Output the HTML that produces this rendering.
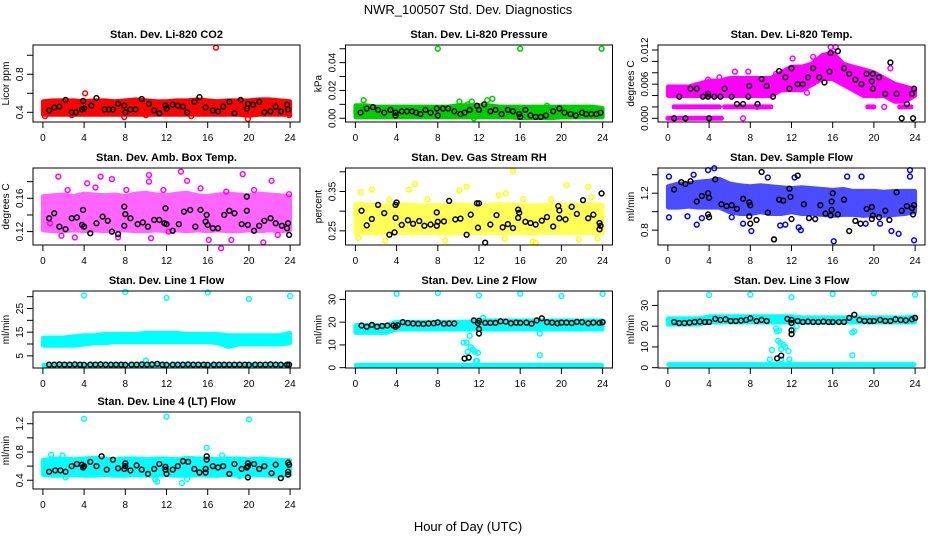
<!DOCTYPE html>
<html><head><meta charset="utf-8"><style>
html,body{margin:0;padding:0;background:#fff;}
svg{display:block;font-family:"Liberation Sans",Arial,sans-serif;}
</style></head><body>
<svg id="fig" width="936" height="540" viewBox="0 0 936 540">
<text x="468" y="14" font-size="13" text-anchor="middle">NWR_100507  Std. Dev. Diagnostics</text>
<text x="468" y="531" font-size="13" text-anchor="middle">Hour of Day (UTC)</text>
</svg>
<script>
// ---------- DATA ----------
const xTicks = [0,4,8,12,16,20,24];
const bandHours = [0,1,2,3,4,5,6,7,8,9,10,11,12,13,14,15,16,17,18,19,20,21,22,23,24];

// Panel 1 CO2
const co2Lo = [0.38,0.38,0.38,0.38,0.38,0.38,0.38,0.38,0.38,0.38,0.38,0.38,0.38,0.38,0.38,0.38,0.38,0.38,0.38,0.38,0.37,0.38,0.38,0.38,0.38];
const co2Hi = [0.51,0.52,0.52,0.52,0.51,0.52,0.52,0.51,0.52,0.53,0.52,0.51,0.51,0.52,0.52,0.53,0.52,0.51,0.52,0.52,0.52,0.53,0.53,0.52,0.51];
const co2Out = [[16.8,1.08],[0.2,0.36],[4.1,0.6],[7.9,0.35],[19.9,0.33],[23.9,0.37],[10,0.37],[2.8,0.37],[14.4,0.36]];
const co2Blk = [[0.6,0.42],[1.1,0.45],[1.6,0.46],[2.2,0.53],[2.8,0.4],[3.2,0.4],[3.8,0.43],[3.9,0.52],[4,0.44],[4.7,0.47],[5.2,0.55],[6,0.43],[6.4,0.43],[6.8,0.43],[7.3,0.49],[7.9,0.47],[8,0.4],[8.5,0.43],[9,0.43],[9.6,0.54],[10.3,0.49],[10.8,0.42],[11.3,0.39],[11.9,0.47],[12,0.44],[12.6,0.48],[13.1,0.47],[13.6,0.46],[14,0.4],[14.7,0.51],[15.2,0.56],[15.8,0.45],[16.5,0.42],[17,0.41],[17.5,0.46],[18.1,0.51],[18.6,0.39],[19.2,0.53],[19.8,0.44],[19.9,0.49],[20.4,0.48],[21,0.51],[21.5,0.4],[22.1,0.41],[22.6,0.46],[23.1,0.41],[23.7,0.48],[23.8,0.43]];

// Panel 2 Pressure
const prsLo = [0.001,0.001,0.001,0.001,0.001,0.001,0.001,0.001,0.001,0.001,0.001,0.001,0.001,0.001,0.001,0.001,0.0005,0.0005,0.0005,0.0005,0.001,0.001,0.001,0.001,0.001];
const prsHi = [0.009,0.009,0.008,0.008,0.008,0.008,0.008,0.008,0.008,0.008,0.009,0.009,0.009,0.009,0.008,0.008,0.008,0.008,0.008,0.008,0.008,0.008,0.008,0.008,0.007];
const prsOut = [[8,0.05],[16,0.05],[23.9,0.05],[0.8,0.013],[10.1,0.012],[11.3,0.012],[12.8,0.013],[13.3,0.014],[11.5,0.0],[10.9,0.01],[18.6,0.009]];
const prsBlk = [[0.5,0.004],[1.1,0.007],[1.7,0.008],[2.2,0.006],[2.8,0.004],[3.4,0.006],[3.9,0.004],[3.9,0.002],[4.5,0.005],[5,0.005],[5.5,0.005],[5.9,0.004],[6.3,0.003],[6.8,0.006],[7.3,0.004],[7.9,0.007],[8,0.002],[8.5,0.007],[9,0.007],[9.6,0.005],[10.2,0.003],[10.6,0.004],[11.1,0.006],[11.8,0.009],[12,0.006],[12.5,0.01],[13.1,0.005],[13.6,0.006],[14.2,0.003],[14.8,0.006],[15.3,0.005],[15.9,0.003],[16,0.001],[16.5,0.006],[17,0.002],[17.5,0.001],[18,0.001],[18.5,0.002],[19.2,0.005],[19.8,0.007],[20.3,0.004],[20.9,0.003],[21.4,0.002],[22,0.004],[22.4,0.003],[22.9,0.003],[23.4,0.003],[23.8,0.004]];

// Panel 3 Li-820 Temp
const tmpLo = [0.004,0.004,0.004,0.004,0.004,0.004,0.004,0.004,0.004,0.004,0.004,0.005,0.005,0.005,0.006,0.007,0.007,0.006,0.005,0.004,0.004,0.004,0.003,0.003,0.004];
const tmpHi = [0.0055,0.0055,0.0055,0.006,0.0065,0.0065,0.007,0.007,0.007,0.007,0.007,0.008,0.009,0.009,0.0095,0.011,0.0115,0.0095,0.009,0.0085,0.008,0.007,0.006,0.0055,0.005];
const tmpLevels = [[0,5.2,0],[0.6,5,0.002],[5.5,10,0.002],[19.4,20,0.002],[22.5,23.6,0.002]];
const tmpOut = [[7.3,0],[8.7,0.002],[3.9,0.0068],[5,0.0072],[15.8,0.0125],[16.3,0.0125],[12.1,0.0105],[14.1,0.0108],[21.6,0.0088],[10.5,0.0078],[6.5,0.0082],[7.8,0.0082],[13.5,0.0045],[20.2,0.004],[21,0.002],[23.8,0.0045]];
const tmpBlk = [[0.6,0],[1.1,0.0038],[1.7,0],[2.2,0.0052],[2.8,0.0052],[3.4,0.0038],[3.9,0.0043],[3.9,0.0038],[4,0],[4.5,0.0038],[5.1,0.0038],[5.5,0.0052],[6.2,0.0038],[6.7,0.0025],[7.3,0.0025],[7.8,0.0038],[7.9,0.0057],[8.7,0.0025],[9.1,0.0069],[9.6,0.0057],[10.2,0.0038],[10.8,0.0083],[11.4,0.0072],[11.8,0.0052],[12,0.0088],[12.6,0.006],[13.1,0.006],[13.6,0.0072],[14.1,0.0088],[14.7,0.0072],[15.2,0.0063],[15.7,0.0082],[15.8,0.0115],[16.5,0.0118],[17.1,0.0088],[17.6,0.0078],[18.2,0.0068],[18.8,0.006],[19.3,0.0078],[19.8,0.0065],[19.9,0.0052],[19.9,0.0078],[20.5,0.0072],[21.1,0.0043],[21.6,0.0098],[22.2,0.0043],[22.7,0],[23.2,0.0025],[23.7,0.0043],[23.8,0],[23.9,0.0052]];

// Panel 4 Amb Box Temp
const ambLo = [0.122,0.121,0.121,0.122,0.121,0.122,0.121,0.122,0.122,0.121,0.121,0.122,0.121,0.122,0.121,0.122,0.121,0.122,0.121,0.121,0.122,0.121,0.122,0.121,0.122];
const ambHi = [0.162,0.163,0.164,0.162,0.165,0.164,0.163,0.164,0.162,0.165,0.166,0.164,0.163,0.165,0.166,0.163,0.162,0.164,0.165,0.164,0.163,0.165,0.164,0.163,0.162];
const ambOut = [[1.5,0.186],[4.3,0.178],[5.6,0.186],[6.7,0.183],[10.3,0.18],[10.3,0.188],[13.4,0.192],[14,0.181],[19.4,0.189],[22.2,0.181],[0.7,0.13],[1.8,0.115],[3.1,0.113],[7.3,0.113],[10.5,0.112],[16.1,0.11],[17.3,0.1],[18.3,0.11],[21.4,0.107],[22.8,0.116],[12.2,0.12],[23.9,0.165],[5.1,0.173],[8.1,0.17],[15.3,0.172],[20.5,0.17],[2.4,0.17],[11.7,0.17],[17.8,0.168]];
const ambBlk = [[0.6,0.136],[1.1,0.142],[1.6,0.126],[2.2,0.123],[2.8,0.136],[3.3,0.137],[3.8,0.128],[3.9,0.146],[4,0.126],[4.6,0.118],[5.2,0.13],[5.8,0.138],[6.3,0.133],[6.7,0.12],[7.3,0.117],[7.9,0.15],[7.9,0.127],[8,0.141],[8.5,0.136],[9.2,0.129],[9.7,0.131],[10.2,0.126],[10.8,0.134],[11.3,0.134],[11.8,0.13],[11.9,0.148],[12,0.129],[12.6,0.121],[13.2,0.129],[13.7,0.144],[14.3,0.146],[14.8,0.126],[15.3,0.146],[15.8,0.132],[15.9,0.14],[16,0.128],[16.5,0.124],[17,0.124],[17.6,0.14],[18.1,0.145],[18.6,0.142],[19.3,0.129],[19.8,0.162],[19.8,0.145],[19.9,0.128],[20.5,0.121],[21,0.127],[21.5,0.133],[22.1,0.136],[22.6,0.13],[23.2,0.127],[23.7,0.124],[23.8,0.13],[23.9,0.116]];

// Panel 5 Gas Stream RH
const rhLo = [0.245,0.245,0.244,0.245,0.246,0.245,0.245,0.246,0.245,0.244,0.245,0.246,0.245,0.245,0.246,0.245,0.245,0.244,0.245,0.246,0.245,0.245,0.246,0.245,0.245];
const rhHi = [0.318,0.316,0.314,0.313,0.315,0.316,0.314,0.313,0.315,0.314,0.316,0.315,0.313,0.315,0.317,0.316,0.314,0.313,0.314,0.315,0.316,0.315,0.314,0.316,0.315];
const rhOut = [[0.3,0.232],[0.5,0.348],[1.6,0.355],[5.2,0.355],[5.8,0.369],[10.1,0.353],[10.8,0.362],[15.3,0.402],[20.5,0.366],[22.6,0.362],[16.3,0.33],[2.9,0.225],[8.7,0.225],[14.5,0.23],[17.2,0.222],[17.5,0.22],[21.7,0.228],[23.5,0.23],[0.2,0.3],[13.9,0.34],[14.6,0.345],[22.9,0.335],[3.3,0.33],[7,0.33],[19,0.33]];
const rhBlk = [[0.6,0.301],[1.1,0.264],[1.6,0.28],[2.2,0.316],[2.8,0.295],[3.3,0.24],[3.8,0.246],[3.9,0.316],[3.9,0.283],[4,0.322],[4.5,0.265],[5.1,0.277],[5.6,0.268],[6.2,0.275],[6.7,0.263],[7.3,0.266],[7.9,0.297],[7.9,0.263],[8,0.273],[8.6,0.274],[9.1,0.326],[9.7,0.279],[10.2,0.281],[10.8,0.24],[11.2,0.291],[11.8,0.32],[11.9,0.258],[12,0.32],[12.6,0.22],[13.1,0.266],[13.7,0.29],[14.3,0.259],[14.8,0.267],[15.3,0.257],[15.8,0.283],[15.8,0.304],[15.9,0.296],[16.5,0.273],[17,0.27],[17.5,0.266],[18.1,0.276],[18.6,0.285],[19.2,0.261],[19.7,0.313],[19.8,0.302],[19.8,0.282],[20.4,0.279],[21,0.311],[21.5,0.293],[22.1,0.328],[22.6,0.282],[23.1,0.291],[23.7,0.254],[23.7,0.27],[23.8,0.263],[23.9,0.345]];

// Panel 6 Sample Flow
const sfLo = [1.05,1.05,1.06,1.05,1.05,1.05,1.0,0.98,0.98,1.0,0.98,0.98,1.0,0.98,0.98,0.97,0.96,0.97,0.97,0.96,0.97,0.96,0.97,0.98,1.0];
const sfHi = [1.27,1.3,1.3,1.32,1.33,1.35,1.3,1.28,1.27,1.28,1.27,1.26,1.25,1.26,1.25,1.24,1.23,1.24,1.22,1.22,1.22,1.21,1.22,1.22,1.22];
const sfOut = [[0.1,0.938],[2.8,0.86],[3.3,0.93],[3.9,1.45],[4.5,1.47],[6.2,0.94],[7.3,0.87],[8.1,0.79],[10.3,0.7],[12.7,0.83],[12.9,0.8],[16.1,0.68],[23.9,0.69],[21.7,0.79],[22.4,0.76],[23.5,1.45],[23.5,1.38],[17.4,1.38],[18.8,1.38],[9.7,1.37],[12.3,1.37],[0.1,1.38],[2.5,1.4],[1.9,0.95],[11.4,0.86],[10.9,0.85],[19.2,0.87],[20.6,0.87]];
const sfBlk = [[0.6,1.24],[1.3,1.32],[1.7,1.3],[2.2,1.33],[2.8,1.11],[3.3,1.17],[3.9,1.2],[3.9,0.97],[4,0.94],[4,1.15],[4.6,1.35],[5.2,1.08],[5.7,1.06],[6.2,1.07],[6.7,1.03],[7.3,1.14],[7.9,1.1],[7.9,0.95],[8,0.87],[8,1.07],[8.6,0.91],[9.1,1.43],[9.7,0.99],[10.3,0.7],[10.8,1.13],[11.2,1.12],[11.8,1.25],[11.9,1.16],[12,0.92],[12.6,1.39],[13.2,1.08],[13.7,0.93],[14.3,0.92],[14.8,1.07],[15.3,0.98],[15.8,0.96],[15.9,1.02],[15.9,1.11],[16,1.2],[16.5,0.97],[17.1,1.13],[17.6,0.79],[18.2,0.9],[18.7,0.87],[19.3,1.03],[19.8,1.05],[19.8,0.92],[19.9,0.96],[20.5,0.94],[21.1,1.01],[21.5,0.91],[22.2,1.21],[22.7,1.01],[23.2,1.06],[23.7,1.04],[23.8,0.97],[23.9,1.07]];

// Panel 7 Line 1 Flow
const l1Lo = [9.5,9.5,9.5,9.5,10,10.5,10.5,11,11,11,11,11,11,11,11,11,11,10.5,9,10,10,10,10,10,10.5];
const l1Hi = [12.5,12.5,12.5,13,13.5,13.5,14,14,14,14,14.5,14.5,14.5,14.5,14,14,14,14,13.5,13.5,13.5,13.5,13.5,13.5,14.5];
const l1Levels = [[0.1,23.9,1.0]];
const l1Out = [[4,30.5],[8,32],[12,29.5],[16,31.8],[20,29],[24,30.3],[10,3]];
const l1Blk = [[0.6,1.3],[1.1,1.3],[1.6,1.4],[2.1,1.3],[2.6,1.3],[3.1,1.4],[3.6,1.3],[4,1.2],[4.6,1.3],[5.1,1.3],[5.6,1.4],[6.1,1.3],[6.6,1.3],[7.1,1.3],[7.6,1.3],[8,1.2],[8.6,1.3],[9.1,1.3],[9.6,1.4],[10.1,1.3],[10.6,1.4],[11.1,1.6],[11.6,1.3],[12,1.2],[12.6,1.3],[13.1,1.3],[13.6,1.3],[14.1,1.4],[14.6,1.3],[15.1,1.3],[15.6,1.3],[16,1.2],[16.6,1.3],[17.1,1.3],[17.6,1.3],[18.1,1.3],[18.6,1.3],[19.1,1.3],[19.6,1.3],[20,1.2],[20.6,1.3],[21.1,1.3],[21.6,1.3],[22.1,1.4],[22.6,1.3],[23.1,1.3],[23.7,1.3],[23.9,1.3]];

// Panel 8 Line 2 Flow
const l2Lo = [15.5,15.5,15.5,15.5,17,17,17,17,17,17,17,17,17,17,17,17,17,17,17,17,17,17,17,17,17];
const l2Hi = [18.5,18.5,18.5,18.5,20,20,20,20,20,20,20,20,20.5,20.5,20.5,20.5,20.5,20.5,20.5,20.5,20.5,20.5,20.5,20.5,20.5];
const l2Levels = [[0.1,23.9,1.0]];
const l2Out = [[4,32.5],[8,32.8],[12,31.7],[16,32.5],[20,31.5],[24,32.4],[10.5,11],[10.8,11],[10.9,7],[11.1,14],[11.2,9],[11.4,8],[11.6,7],[11.9,6.5],[12.4,22],[17.9,5.5],[17.9,15],[11.8,3],[11.7,3]];
const l2Blk = [[0.6,18.5],[1.1,18],[1.6,18.8],[2.1,18],[2.6,18.3],[3.1,18.5],[3.7,18.5],[3.9,18],[4.1,18.6],[4.6,20],[5.1,19.6],[5.6,19.4],[6.1,19.3],[6.6,19.2],[7.1,19.4],[7.6,19.5],[8,19.9],[8.6,19.3],[9.1,19.4],[9.6,19.4],[10.6,4],[11,4.4],[11.5,20.8],[12,20.6],[11.9,19.6],[12,15],[12,17],[12.6,19.7],[13.1,19.7],[13.6,19.7],[14.1,20.4],[14.6,20.2],[15.1,19.5],[15.6,19.8],[16,19.7],[16.6,19.8],[17.1,19.3],[17.6,20.8],[18.1,21.7],[18.6,20],[19.1,19.8],[19.6,19.5],[20,19.8],[20.5,19.8],[21,19.6],[21.5,20.1],[22,20],[22.6,19.5],[23.1,19.8],[23.7,19.7],[24,20]];

// Panel 9 Line 3 Flow
const l3Lo = [21,21,21,21,22,22,22,22,22,22,22,22,22,22,22,22,22,22,22,22,22,22,22,22,22];
const l3Hi = [23.5,23.5,23.5,23.5,24.5,24.5,24.5,24.5,24.5,24.5,24.5,24.5,24.5,24,24,24,24,24,24,24,24,24,24,24,24.5];
const l3Levels = [[0.1,23.9,1.5]];
const l3Out = [[4,35],[8,35.2],[12,34],[16,35.5],[20,36],[24,35.2],[10.5,19],[10.6,17.5],[10.7,13],[10.9,12],[11,9],[11.2,11],[11.4,10],[11.7,8],[11,4],[11.8,4],[12.2,18],[12.5,20],[17.9,17],[18.1,17.5],[17.9,6],[10.1,8.5],[10.8,18],[9.9,4]];
const l3Blk = [[0.6,22],[1.1,21.5],[1.6,21.5],[2.1,21.7],[2.6,22],[3.1,22.2],[3.6,22],[4,22],[4.6,23.5],[5.1,23],[5.6,23.3],[6.1,22.5],[6.6,22.5],[7.1,22.7],[7.6,23],[8,23.8],[8.6,22.5],[9.1,23],[9.6,22.5],[10.6,4.5],[11,5.8],[11.6,23.5],[12,23],[12,21.5],[12,16.2],[12,18],[12.6,22.5],[13.1,22],[13.6,22.2],[14.1,22],[14.6,22],[15.1,22.2],[15.6,22],[16,22],[16.6,22],[17.1,22],[17.6,24],[18.1,25.5],[18.6,23],[19.1,22.5],[19.6,22.5],[20,22.5],[20.6,23],[21.1,22.5],[21.6,22.5],[22.1,23.3],[22.6,23],[23.1,22.8],[23.7,23.3],[24,24]];

// Panel 10 Line 4 (LT) Flow
const l4Lo = [0.48,0.47,0.47,0.48,0.47,0.47,0.48,0.47,0.47,0.48,0.47,0.47,0.48,0.47,0.47,0.48,0.47,0.47,0.48,0.47,0.47,0.48,0.47,0.47,0.48];
const l4Hi = [0.68,0.7,0.7,0.69,0.7,0.71,0.7,0.69,0.7,0.7,0.69,0.7,0.7,0.69,0.71,0.7,0.7,0.69,0.7,0.7,0.69,0.7,0.69,0.68,0.68];
const l4Out = [[4,1.27],[12,1.3],[20,1.26],[0.8,0.76],[1.9,0.75],[15.9,0.86],[10.9,0.41],[11.1,0.38],[2.2,0.44],[17.4,0.75],[14,0.42],[13.5,0.36],[19.1,0.46]];
const l4Blk = [[0.6,0.52],[1.2,0.54],[1.7,0.54],[2.2,0.52],[2.8,0.6],[3.3,0.63],[3.8,0.62],[3.9,0.58],[4,0.6],[4.6,0.66],[5.2,0.6],[5.7,0.74],[6.2,0.55],[6.8,0.69],[7.3,0.57],[7.9,0.56],[8,0.6],[8,0.64],[8.5,0.54],[9.1,0.61],[9.6,0.55],[10.2,0.49],[10.8,0.56],[11.3,0.63],[11.9,0.59],[11.9,0.55],[12,0.49],[12.6,0.55],[13.1,0.6],[13.6,0.67],[14.1,0.66],[14.7,0.56],[15.2,0.51],[15.8,0.51],[15.8,0.56],[15.9,0.69],[15.9,0.74],[16.5,0.6],[17,0.58],[17.5,0.6],[18.1,0.49],[18.6,0.63],[19.3,0.56],[19.8,0.58],[19.9,0.6],[19.9,0.64],[19.9,0.44],[20.5,0.63],[21,0.56],[21.5,0.6],[22.2,0.5],[22.6,0.62],[23.1,0.43],[23.8,0.65],[23.8,0.52],[23.9,0.62],[23.8,0.48]];

// ---------- PANEL CONFIG ----------
const panels = [
 {key:'co2',title:'Stan. Dev. Li-820 CO2',ytitle:'Licor ppm',col:0,row:0,ylo:0.298,yhi:1.108,ticks:[0.4,0.6,0.8,1.0],labels:['0.4','0.8'],color:'#ff0000',op:1,lo:co2Lo,hi:co2Hi,out:co2Out,blk:co2Blk},
 {key:'pressure',title:'Stan. Dev. Li-820 Pressure',ytitle:'kPa',col:1,row:0,ylo:-0.0027,yhi:0.0527,ticks:[0,0.01,0.02,0.03,0.04,0.05],labels:['0.00','0.02','0.04'],color:'#00cd00',op:1,lo:prsLo,hi:prsHi,out:prsOut,blk:prsBlk},
 {key:'temp',title:'Stan. Dev. Li-820 Temp.',ytitle:'degrees C',col:2,row:0,ylo:-0.00065,yhi:0.01288,ticks:[0,0.002,0.004,0.006,0.008,0.010,0.012],labels:['0.000','0.006','0.012'],color:'#ff00ff',op:1,lo:tmpLo,hi:tmpHi,out:tmpOut,blk:tmpBlk,levels:tmpLevels},
 {key:'ambbox',title:'Stan. Dev. Amb. Box Temp.',ytitle:'degrees C',col:0,row:1,ylo:0.1039,yhi:0.1964,ticks:[0.12,0.14,0.16,0.18],labels:['0.12','0.16'],color:'#ff00ff',op:0.6,lo:ambLo,hi:ambHi,out:ambOut,blk:ambBlk},
 {key:'rh',title:'Stan. Dev. Gas Stream RH',ytitle:'percent',col:1,row:1,ylo:0.214,yhi:0.4097,ticks:[0.25,0.30,0.35,0.40],labels:['0.25','0.35'],color:'#ffff00',op:0.65,lo:rhLo,hi:rhHi,out:rhOut,blk:rhBlk},
 {key:'sampleflow',title:'Stan. Dev. Sample Flow',ytitle:'ml/min',col:2,row:1,ylo:0.639,yhi:1.473,ticks:[0.8,1.0,1.2,1.4],labels:['0.8','1.2'],color:'#0000ff',op:0.7,lo:sfLo,hi:sfHi,out:sfOut,blk:sfBlk},
 {key:'line1',title:'Stan. Dev. Line 1 Flow',ytitle:'ml/min',col:0,row:2,ylo:-0.14,yhi:32.4,ticks:[5,10,15,20,25,30],labels:['5','15','25'],color:'#00ffff',op:1,lo:l1Lo,hi:l1Hi,out:l1Out,blk:l1Blk,levels:l1Levels},
 {key:'line2',title:'Stan. Dev. Line 2 Flow',ytitle:'ml/min',col:1,row:2,ylo:-0.15,yhi:33.7,ticks:[0,10,20,30],labels:['0','10','20','30'],color:'#00ffff',op:1,lo:l2Lo,hi:l2Hi,out:l2Out,blk:l2Blk,levels:l2Levels},
 {key:'line3',title:'Stan. Dev. Line 3 Flow',ytitle:'ml/min',col:2,row:2,ylo:-0.15,yhi:36.95,ticks:[0,10,20,30],labels:['0','10','20','30'],color:'#00ffff',op:1,lo:l3Lo,hi:l3Hi,out:l3Out,blk:l3Blk,levels:l3Levels},
 {key:'line4',title:'Stan. Dev. Line 4 (LT) Flow',ytitle:'ml/min',col:0,row:3,ylo:0.276,yhi:1.366,ticks:[0.4,0.6,0.8,1.0,1.2],labels:['0.4','0.8','1.2'],color:'#00ffff',op:1,lo:l4Lo,hi:l4Hi,out:l4Out,blk:l4Blk}
];
const colLeft = [33,345.5,658];
const rowTop = [45,168,291,412];
const boxW = 267, boxH = 77;

// ---------- DRAW ----------
const NS='http://www.w3.org/2000/svg';
const svg=document.getElementById('fig');
function mk(tag,attrs,parent){const e=document.createElementNS(NS,tag);for(const k in attrs)e.setAttribute(k,attrs[k]);(parent||svg).appendChild(e);return e;}

panels.forEach(p=>{
  const L=colLeft[p.col], T=rowTop[p.row], R=L+boxW, B=T+boxH;
  const xs=h=>L+(h+0.96)/25.92*boxW;
  const ys=v=>B-(v-p.ylo)/(p.yhi-p.ylo)*boxH;
  const g=mk('g',{});
  
  

  const t=mk('text',{x:(L+R)/2,y:T-7,'font-size':11,'font-weight':'bold','text-anchor':'middle'},g);
  t.textContent=p.title;
  
  

  const cg=mk('g',{opacity:p.op},g);
  
  
  let d='';
  bandHours.forEach((h,i)=>{const hh=Math.min(Math.max(h,0.05),23.95);d+=(i?'L':'M')+xs(hh).toFixed(1)+','+ys(p.hi[i]).toFixed(1);});
  for(let i=bandHours.length-1;i>=0;i--){const hh=Math.min(Math.max(bandHours[i],0.05),23.95);d+='L'+xs(hh).toFixed(1)+','+ys(p.lo[i]).toFixed(1);}
  d+='Z';
  const band=mk('path',{d:d,fill:p.color,stroke:p.color,'stroke-width':5,'stroke-linejoin':'round'},cg);
  
  
  (p.levels||[]).forEach(lv=>{
    const ln=mk('line',{x1:xs(lv[0]),x2:xs(lv[1]),y1:ys(lv[2]),y2:ys(lv[2]),stroke:p.color,'stroke-width':5,'stroke-linecap':'round'},cg);
    
    
  });
  p.out.forEach(o=>{
    const c=mk('circle',{cx:xs(o[0]),cy:ys(o[1]),r:2.4,fill:'none',stroke:p.color,'stroke-width':1.5},g);
    
    
  });
  p.blk.forEach(o=>{
    const c=mk('circle',{cx:xs(o[0]),cy:ys(o[1]),r:2.4,fill:'none',stroke:'#000','stroke-width':1.5},g);
    
    
  });

  const box=mk('rect',{x:L,y:T,width:boxW,height:boxH,fill:'none',stroke:'#000','stroke-width':1},g);
  
  

  const xa=mk('g',{},g);
  
  
  mk('line',{x1:xs(xTicks[0]),x2:xs(xTicks[xTicks.length-1]),y1:B,y2:B,stroke:'#000'},xa);
  xTicks.forEach(h=>{
    mk('line',{x1:xs(h),x2:xs(h),y1:B,y2:B+6,stroke:'#000'},xa);
    const tl=mk('text',{x:xs(h),y:B+19,'font-size':10,'text-anchor':'middle'},xa);
    tl.textContent=String(h);
    
    
  });

  const ya=mk('g',{},g);
  
  
  mk('line',{x1:L,x2:L,y1:ys(p.ticks[0]),y2:ys(p.ticks[p.ticks.length-1]),stroke:'#000'},ya);
  p.ticks.forEach(v=>mk('line',{x1:L-6,x2:L,y1:ys(v),y2:ys(v),stroke:'#000'},ya));
  p.labels.forEach(s=>{
    const v=parseFloat(s), y=ys(v), x=L-10;
    const tl=mk('text',{x:x,y:y,'font-size':10,'text-anchor':'middle',transform:'rotate(-90 '+x+' '+y+')'},ya);
    tl.textContent=s;
    
    
  });
  const yt=mk('text',{x:L-24,y:(T+B)/2,'font-size':10,'text-anchor':'middle',transform:'rotate(-90 '+(L-24)+' '+((T+B)/2)+')'},g);
  yt.textContent=p.ytitle;
  
  
});
</script>
</body></html>
